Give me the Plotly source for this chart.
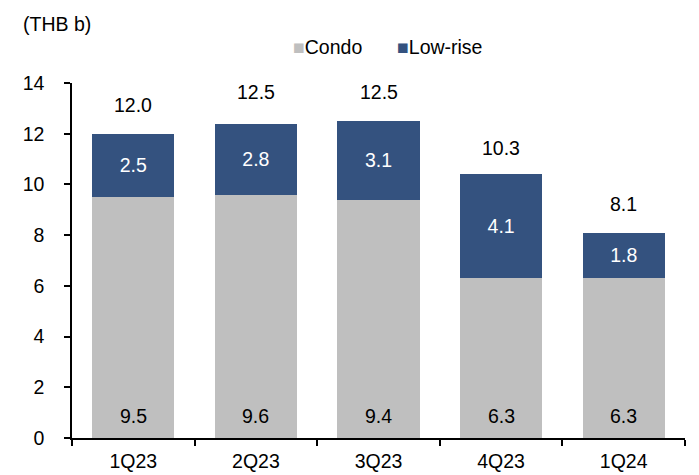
import plotly.graph_objects as go

categories = ["1Q23", "2Q23", "3Q23", "4Q23", "1Q24"]
condo = [9.5, 9.6, 9.4, 6.3, 6.3]
low_rise = [2.5, 2.8, 3.1, 4.1, 1.8]
totals = [12.0, 12.5, 12.5, 10.3, 8.1]
y_ticks = [0, 2, 4, 6, 8, 10, 12, 14]

GRAY = "#BFBFBF"
BLUE = "#34527F"
FONT = "Liberation Sans, Arial, sans-serif"
FS = 19.5

fig = go.Figure()
fig.add_trace(go.Bar(x=categories, y=condo, name="Condo", marker_color=GRAY,
                     marker_line_width=0, showlegend=False, hoverinfo="skip"))
fig.add_trace(go.Bar(x=categories, y=low_rise, name="Low-rise", marker_color=BLUE,
                     marker_line_width=0, showlegend=False,
                     text=[f"{v:.1f}" for v in low_rise], textposition="inside",
                     insidetextanchor="middle",
                     textfont=dict(color="white", size=FS, family=FONT),
                     hoverinfo="skip"))

annotations = []
for c, v in zip(categories, condo):
    annotations.append(dict(x=c, y=0, xref="x", yref="y", text=f"{v:.1f}",
                            showarrow=False, yanchor="middle", yshift=22,
                            font=dict(size=FS, color="#000000", family=FONT)))
for c, t in zip(categories, totals):
    annotations.append(dict(x=c, y=t, xref="x", yref="y", text=f"{t:.1f}",
                            showarrow=False, yanchor="middle", yshift=29,
                            font=dict(size=FS, color="#000000", family=FONT)))

# legend (manual)
annotations.append(dict(x=0.357, y=1.101, xref="paper", yref="paper", xanchor="left",
                        yanchor="middle", showarrow=False,
                        text=f"<span style='color:{GRAY}'>■</span>Condo",
                        font=dict(size=FS, color="#000000", family=FONT)))
annotations.append(dict(x=0.527, y=1.101, xref="paper", yref="paper", xanchor="left",
                        yanchor="middle", showarrow=False,
                        text=f"<span style='color:{BLUE}'>■</span>Low-rise",
                        font=dict(size=FS, color="#000000", family=FONT)))
annotations.append(dict(x=-0.083, y=1.166, xref="paper", yref="paper", xanchor="left",
                        yanchor="middle", showarrow=False, text="(THB b)",
                        font=dict(size=FS, color="#000000", family=FONT)))

fig.update_layout(
    width=699, height=475,
    margin=dict(l=72, r=14, t=83, b=37),
    barmode="stack", bargap=0.33,
    plot_bgcolor="white", paper_bgcolor="white",
    font=dict(family=FONT, size=FS, color="#000000"),
    annotations=annotations,
    showlegend=False,
)
fig.update_xaxes(showline=True, linecolor="#000000", linewidth=1.5,
                 ticks="outside", tickson="boundaries", ticklen=6, tickwidth=1.5,
                 tickcolor="#000000", showgrid=False, ticklabelstandoff=5,
                 automargin=False, tickfont=dict(size=FS, family=FONT))
fig.update_yaxes(range=[0, 14], tickvals=y_ticks, showline=True, linecolor="#000000",
                 linewidth=1.5, ticks="outside", ticklen=6, tickwidth=1.5,
                 tickcolor="#000000", showgrid=False, zeroline=False,
                 automargin=False, ticklabelstandoff=16,
                 tickfont=dict(size=FS, family=FONT))

fig.write_html("out.html")
